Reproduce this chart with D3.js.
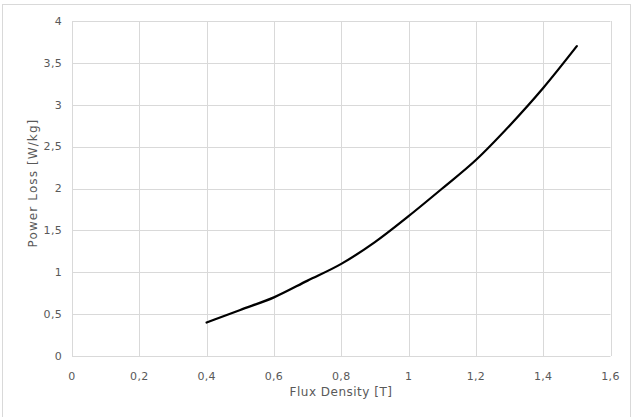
<!DOCTYPE html>
<html><head><meta charset="utf-8">
<script src="https://cdn.jsdelivr.net/npm/d3@7"></script>
<style>body{margin:0;background:#fff}svg{display:block}</style>
</head><body>
<svg id="c" width="639" height="417"></svg>
<script>
const fluxDensity = [0.4, 0.5, 0.6, 0.7, 0.8, 0.9, 1.0, 1.1, 1.2, 1.3, 1.4, 1.5];
const powerLoss   = [0.40, 0.55, 0.70, 0.90, 1.10, 1.36, 1.67, 2.00, 2.34, 2.75, 3.20, 3.70];
const xTicks = [0, 0.2, 0.4, 0.6, 0.8, 1.0, 1.2, 1.4, 1.6];
const yTicks = [0, 0.5, 1, 1.5, 2, 2.5, 3, 3.5, 4];
const xTitle = "Flux Density [T]";
const yTitle = "Power Loss [W/kg]";

const svg = d3.select("#c");
const font = "'DejaVu Sans', Verdana, sans-serif";
svg.append("rect").attr("x",2.5).attr("y",4.5).attr("width",628).attr("height",420)
  .attr("fill","#fff").attr("stroke","#d9d9d9");

const x = d3.scaleLinear().domain([0,1.6]).range([72,610.5]);
const y = d3.scaleLinear().domain([0,4]).range([356,21]);
const fmt = d => String(+d.toFixed(1)).replace(".", ",");

const g = svg.append("g");
g.selectAll("line.h").data(yTicks).join("line")
  .attr("x1",x(0)).attr("x2",x(1.6)).attr("y1",d=>Math.round(y(d))+0.5).attr("y2",d=>Math.round(y(d))+0.5)
  .attr("stroke","#d9d9d9").attr("stroke-width",1);
g.selectAll("line.v").data(xTicks).join("line")
  .attr("y1",y(0)).attr("y2",y(4)).attr("x1",d=>Math.round(x(d))+0.5).attr("x2",d=>Math.round(x(d))+0.5)
  .attr("stroke","#d9d9d9").attr("stroke-width",1);

g.selectAll("text.yl").data(yTicks).join("text")
  .attr("x",62).attr("y",d=>y(d)).attr("dy","0.35em").attr("text-anchor","end")
  .attr("font-family",font).attr("font-size",11).attr("fill","#595959").attr("letter-spacing",0.3).text(fmt);
g.selectAll("text.xl").data(xTicks).join("text")
  .attr("x",d=>x(d)).attr("y",376).attr("dy","0.35em").attr("text-anchor","middle")
  .attr("font-family",font).attr("font-size",11).attr("fill","#595959").attr("letter-spacing",0.3).text(fmt);

svg.append("text").attr("x",341).attr("y",392).attr("dy","0.35em").attr("text-anchor","middle")
  .attr("font-family",font).attr("font-size",12).attr("fill","#595959").attr("letter-spacing",0.5).text(xTitle);
svg.append("text").attr("transform","translate(33,183) rotate(-90)").attr("dy","0.35em").attr("text-anchor","middle")
  .attr("font-family",font).attr("font-size",12).attr("fill","#595959").attr("letter-spacing",1.1).text(yTitle);

const data = fluxDensity.map((d,i)=>[d,powerLoss[i]]);
svg.append("path").datum(data)
  .attr("d", d3.line().x(d=>x(d[0])).y(d=>y(d[1])).curve(d3.curveMonotoneX))
  .attr("fill","none").attr("stroke","#000").attr("stroke-width",2.25).attr("stroke-linecap","round");
</script>
</body></html>
